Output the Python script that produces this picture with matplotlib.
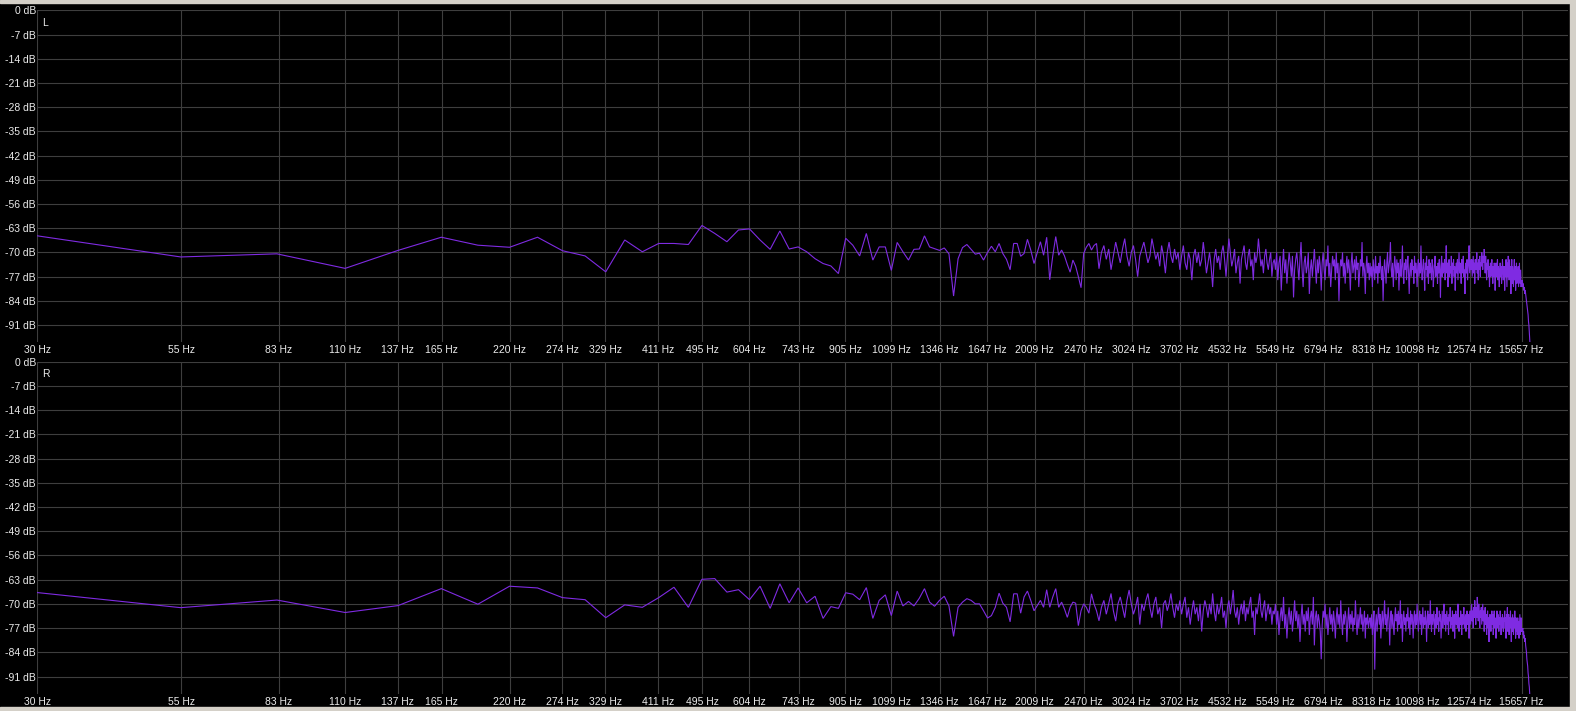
import numpy as np
import matplotlib
matplotlib.use("Agg")
import matplotlib.pyplot as plt
from matplotlib.patches import Rectangle
from matplotlib.ticker import NullLocator

# FFT bin spacing (Hz); bin k sits at k * BIN_HZ
BIN_HZ = 27.46

# Left channel level per bin (dB), bins 1..N
L_DB = [
    -64.3, -71.3, -70.4, -74.6, -69.4, -65.6, -67.9, -68.5, -65.6, -69.5,
    -71.0, -75.6, -66.4, -69.8, -67.4, -67.4, -67.7, -62.2, -64.5, -66.9,
    -63.5, -63.2, -66.4, -69.1, -63.8, -69.0, -68.4, -69.8, -71.8, -73.2,
    -73.9, -76.1, -65.9, -67.9, -71.0, -64.5, -72.2, -68.4, -68.4, -75.2,
    -67.1, -69.8, -72.2, -69.1, -69.0, -65.2, -68.4, -68.9, -69.4, -68.7,
    -70.4, -82.6, -71.8, -68.6, -67.7, -69.1, -70.5, -70.2, -72.2, -70.0,
    -68.2, -69.8, -67.4, -70.3, -72.0, -75.0, -67.4, -67.4, -71.1, -70.3,
    -66.2, -69.3, -73.2, -70.0, -66.9, -70.8, -65.6, -77.9, -71.0, -65.4,
    -70.8, -69.3, -71.0, -73.5, -75.7, -72.2, -74.0, -77.0, -80.2, -70.3,
    -68.5, -67.4, -69.3, -68.0, -67.4, -74.7,
    # bins 97-135
    -70, -68, -72, -69, -75, -71, -67, -70, -73, -69,
    -66, -71, -74, -70, -68, -72, -77, -71, -69, -67,
    -70, -73, -71, -66, -69, -72, -70, -74, -68, -71,
    -76, -70, -67, -71, -73, -69, -72, -70, -75,
    # bins 136-200
    -71, -68, -73, -75, -70, -72, -78, -71, -69, -73,
    -70, -74, -72, -67, -71, -76, -73, -70, -74, -80,
    -72, -69, -73, -71, -75, -70, -68, -72, -77, -71,
    -66, -70, -74, -72, -69, -76, -73, -71, -79, -72,
    -70, -68, -73, -75, -71, -69, -74, -72, -78, -70,
    -73, -71, -66, -70, -74, -72, -76, -71, -69, -73,
    -75, -72, -70, -77, -73,
    # bins 201-300
    -72, -75, -70, -78, -73, -71, -81, -74, -69, -76,
    -72, -79, -74, -70, -73, -77, -71, -83, -75, -72,
    -70, -74, -78, -72, -67, -75, -80, -73, -71, -76,
    -74, -70, -82, -75, -72, -77, -73, -69, -74, -79,
    -72, -76, -71, -74, -81, -73, -70, -75, -78, -72,
    -74, -68, -77, -73, -80, -75, -71, -74, -72, -78,
    -70, -76, -73, -84, -75, -72, -74, -70, -77, -73,
    -79, -74, -71, -76, -72, -75, -81, -73, -70, -76,
    -74, -72, -78, -71, -75, -73, -80, -76, -72, -74,
    -67, -77, -73, -75, -82, -74, -71, -76, -73, -78,
    # bins 301-460
    -73, -77, -74, -80, -72, -75, -78, -71, -76, -74,
    -79, -73, -76, -71, -75, -78, -74, -84, -76, -72,
    -75, -79, -73, -70, -76, -74, -72, -67, -75, -77,
    -73, -80, -75, -71, -74, -78, -72, -76, -73, -81,
    -75, -72, -77, -74, -68, -76, -79, -73, -75, -72,
    -78, -74, -71, -76, -82, -75, -73, -77, -72, -75,
    -74, -79, -71, -76, -73, -75, -80, -74, -72, -77,
    -73, -76, -68, -75, -78, -74, -72, -76, -81, -73,
    -75, -71, -77, -74, -79, -72, -76, -73, -75, -78,
    -72, -74, -80, -76, -73, -71, -77, -75, -74, -79,
    -73, -76, -72, -75, -83, -74, -71, -77, -73, -76,
    -75, -72, -78, -74, -68, -76, -73, -80, -75, -72,
    -77, -74, -76, -71, -79, -73, -75, -72, -77, -74,
    -81, -75, -73, -76, -72, -78, -74, -70, -76, -73,
    -75, -79, -72, -76, -74, -71, -77, -75, -82, -74,
    -73, -76, -72, -78, -75, -73, -68, -76, -74, -72,
    # bins 461-570
    -75, -72, -77, -74, -71, -76, -73, -79, -72, -75,
    -74, -70, -76, -73, -78, -72, -75, -71, -77, -73,
    -74, -70, -72, -75, -71, -73, -69, -72, -76, -71,
    -74, -78, -73, -75, -72, -77, -74, -80, -75, -73,
    -77, -74, -72, -76, -79, -74, -77, -73, -75, -81,
    -76, -73, -77, -75, -72, -78, -74, -76, -80, -75,
    -73, -77, -74, -79, -76, -72, -75, -78, -74, -76,
    -81, -74, -77, -72, -76, -80, -73, -77, -71, -78,
    -75, -72, -78, -74, -82, -76, -72, -79, -74, -77,
    -80, -75, -72, -78, -74, -81, -76, -73, -79, -75,
    -78, -74, -80, -76, -73, -79, -77, -75, -80, -78,
    # bins 571-595 (roll-off)
    -79, -78, -80, -79, -80, -81, -80, -82, -81, -82,
    -83, -84, -85, -86, -87, -88, -90, -91, -93, -95,
    -97, -100, -103, -107, -111,
]

# Right channel level per bin (dB), bins 1..N
R_DB = [
    -66.1, -71.1, -68.9, -72.5, -70.5, -65.6, -70.1, -64.9, -65.4, -68.2,
    -68.8, -74.0, -70.3, -71.0, -68.2, -65.2, -71.0, -62.9, -62.7, -66.6,
    -65.9, -68.8, -64.9, -71.3, -64.2, -69.7, -65.4, -69.7, -67.8, -74.2,
    -70.8, -71.3, -66.8, -67.2, -68.8, -65.3, -74.2, -69.0, -67.4, -73.4,
    -66.3, -70.6, -69.3, -70.6, -68.4, -65.6, -69.5, -70.7, -69.0, -67.8,
    -70.6, -79.4, -71.0, -69.5, -68.5, -69.0, -70.0, -70.0, -72.0, -74.1,
    -73.4, -71.0, -66.9, -69.8, -71.0, -75.2, -67.1, -67.1, -72.7, -68.0,
    -66.3, -69.0, -72.0, -70.5, -69.0, -71.0, -65.9, -71.0, -68.0, -65.6,
    -71.0, -69.5, -71.5, -73.9, -71.0, -69.5, -69.8, -76.3, -72.0, -70.0,
    -71.0, -72.7, -67.1, -70.0, -72.0, -74.9,
    # bins 97-135
    -71, -69, -73, -70, -67, -72, -75, -70, -68, -71,
    -74, -69, -66, -70, -73, -71, -68, -76, -70, -72,
    -69, -67, -71, -74, -70, -68, -73, -71, -77, -70,
    -69, -72, -70, -67, -71, -74, -70, -72, -69,
    # bins 136-200
    -73, -70, -68, -74, -71, -76, -72, -69, -73, -71,
    -75, -70, -78, -72, -69, -71, -74, -70, -73, -67,
    -72, -75, -70, -73, -71, -68, -74, -72, -77, -71,
    -69, -73, -70, -66, -72, -74, -71, -76, -72, -70,
    -73, -69, -75, -71, -73, -70, -68, -74, -72, -79,
    -71, -73, -70, -67, -72, -74, -71, -69, -75, -72,
    -70, -73, -71, -76, -72,
    # bins 201-300
    -73, -70, -76, -72, -79, -74, -71, -75, -68, -77,
    -73, -80, -74, -71, -76, -72, -78, -74, -69, -75,
    -72, -77, -73, -81, -74, -70, -76, -73, -78, -72,
    -75, -71, -79, -74, -72, -76, -68, -82, -74, -72,
    -77, -73, -75, -78, -86, -76, -72, -74, -70, -77,
    -73, -79, -75, -71, -76, -73, -78, -72, -75, -80,
    -74, -71, -76, -73, -77, -69, -75, -79, -73, -76,
    -72, -74, -81, -75, -71, -77, -73, -76, -72, -78,
    -74, -76, -69, -75, -79, -73, -77, -74, -71, -76,
    -73, -78, -75, -72, -80, -74, -76, -73, -77, -75,
    # bins 301-460
    -74, -77, -73, -79, -75, -72, -89, -76, -73, -78,
    -74, -71, -76, -73, -80, -75, -72, -77, -74, -69,
    -76, -73, -78, -74, -71, -75, -82, -74, -72, -77,
    -73, -76, -79, -74, -71, -75, -73, -78, -72, -76,
    -74, -69, -77, -73, -81, -75, -72, -76, -74, -78,
    -73, -75, -71, -77, -74, -79, -72, -76, -73, -75,
    -80, -74, -72, -77, -73, -76, -70, -75, -78, -74,
    -72, -76, -73, -79, -75, -71, -77, -74, -76, -72,
    -75, -81, -74, -72, -77, -73, -76, -69, -75, -78,
    -73, -76, -74, -72, -79, -75, -73, -77, -71, -76,
    -74, -78, -72, -75, -73, -80, -76, -72, -77, -74,
    -70, -76, -73, -78, -75, -72, -76, -74, -79, -73,
    -75, -71, -77, -74, -76, -72, -78, -75, -73, -80,
    -74, -72, -76, -73, -77, -70, -75, -78, -74, -76,
    -72, -75, -79, -73, -76, -74, -71, -77, -75, -73,
    -78, -74, -72, -76, -73, -75, -80, -74, -72, -76,
    # bins 461-570
    -73, -70, -75, -72, -77, -71, -74, -69, -73, -76,
    -71, -74, -68, -72, -75, -70, -73, -77, -72, -74,
    -71, -76, -73, -70, -75, -72, -78, -74, -71, -76,
    -73, -79, -75, -72, -77, -74, -81, -76, -73, -75,
    -78, -74, -72, -76, -73, -79, -75, -72, -77, -74,
    -76, -80, -74, -72, -77, -75, -73, -78, -74, -76,
    -72, -75, -79, -74, -77, -73, -76, -78, -74, -75,
    -72, -77, -74, -80, -73, -76, -71, -78, -75, -73,
    -79, -74, -77, -72, -76, -81, -74, -78, -73, -76,
    -79, -74, -77, -72, -76, -80, -74, -78, -75, -79,
    -74, -78, -75, -80, -76, -73, -79, -76, -74, -78,
    # bins 571-595 (roll-off)
    -77, -78, -77, -79, -78, -80, -79, -81, -80, -82,
    -83, -84, -86, -87, -88, -90, -91, -93, -94, -96,
    -98, -101, -104, -108, -112,
]

X_TICKS_HZ = [30, 55, 83, 110, 137, 165, 220, 274, 329, 411, 495, 604, 743,
              905, 1099, 1346, 1647, 2009, 2470, 3024, 3702, 4532, 5549,
              6794, 8318, 10098, 12574, 15657]
Y_TICKS_DB = [0, -7, -14, -21, -28, -35, -42, -49, -56, -63, -70, -77, -84, -91]
CHANNELS = ["L", "R"]

plt.rcParams["font.family"] = ["Liberation Sans", "DejaVu Sans"]

W, H = 1576, 711
fig = plt.figure(figsize=(W / 100, H / 100), dpi=100, facecolor="black")

TEXT_C = "#ececec"
GRID_C = "#3e3e3e"
LINE_C = "#7f2be2"


def add_px_axes(left, top, right, bottom):
    return fig.add_axes([left / W, 1 - bottom / H, (right - left) / W, (bottom - top) / H])


panels = [(10.3, 342.4), (361.7, 693.8)]
series = [L_DB, R_DB]

for (top, bottom), name, vals in zip(panels, CHANNELS, series):
    ax = add_px_axes(37.3, top, 1568, bottom)
    ax.set_facecolor("black")
    freqs = BIN_HZ * np.arange(1, len(vals) + 1)
    ax.plot(freqs, vals, color=LINE_C, lw=0.8, solid_joinstyle="miter")
    ax.set_xscale("log")
    ax.set_xlim(30, 19040)
    ax.set_ylim(-96, 0)
    ax.xaxis.set_minor_locator(NullLocator())
    ax.yaxis.set_minor_locator(NullLocator())
    ax.set_xticks(X_TICKS_HZ, labels=[f"{f} Hz" for f in X_TICKS_HZ])
    ax.set_yticks(Y_TICKS_DB, labels=[f"{v} dB" for v in Y_TICKS_DB])
    ax.tick_params(axis="both", length=0, labelsize=7.5, colors=TEXT_C)
    ax.tick_params(axis="x", pad=2.0)
    ax.tick_params(axis="y", pad=1.0)
    ax.grid(True, color=GRID_C, lw=0.8)
    ax.set_axisbelow(True)
    for s in ax.spines.values():
        s.set_visible(False)
    ax.text(0.003, 0.978, name, transform=ax.transAxes, ha="left", va="top",
            fontsize=7.5, color=TEXT_C)

# window frame
FRAME_C = "#d4d0c8"
fig.patches.append(Rectangle((0, 1 - 3 / H), 1, 3 / H, transform=fig.transFigure,
                             color=FRAME_C, zorder=10))
fig.patches.append(Rectangle((1570 / W, 0), 6 / W, 1, transform=fig.transFigure,
                             color=FRAME_C, zorder=10))
fig.patches.append(Rectangle((0, 0), 1, 4 / H, transform=fig.transFigure,
                             color=FRAME_C, zorder=10))

fig.savefig("out.png", dpi=100, facecolor="black")
